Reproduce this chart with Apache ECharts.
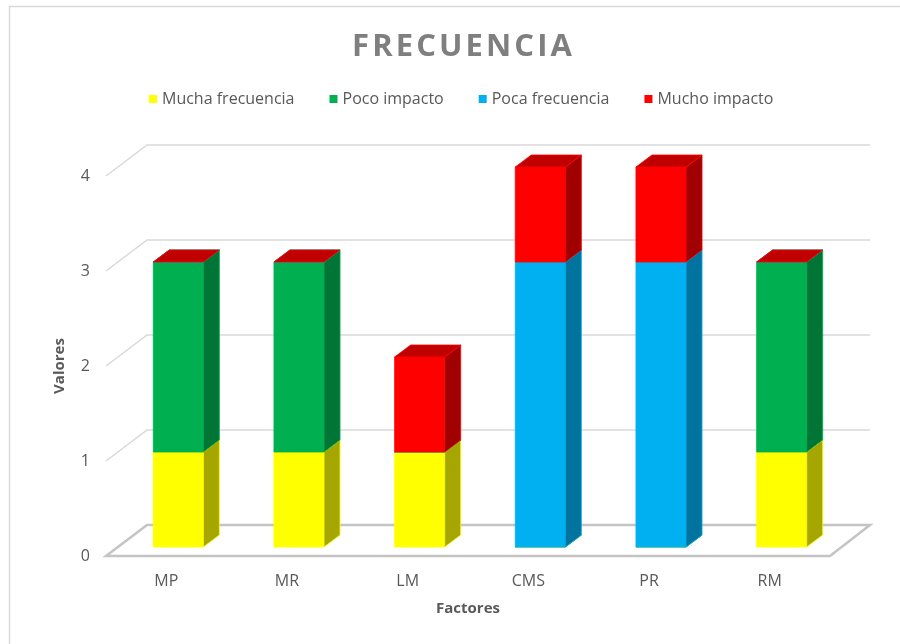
<!DOCTYPE html>
<html>
<head>
<meta charset="utf-8">
<script src="https://cdn.jsdelivr.net/npm/echarts@6/dist/echarts.min.js"></script>
<style>
  html, body { margin: 0; padding: 0; background: #ffffff; }
  #chart { width: 900px; height: 644px; }
</style>
</head>
<body>
<div id="chart"></div>
<script>
// Factors on the horizontal axis
const categories = ['MP', 'MR', 'LM', 'CMS', 'PR', 'RM'];

// Stacked series values, in stacking order (bottom to top)
const muchaFrecuencia = [1, 1, 1, 0, 0, 1];
const pocoImpacto     = [2, 2, 0, 0, 0, 2];
const pocaFrecuencia  = [0, 0, 0, 3, 3, 0];
const muchoImpacto    = [0, 0, 1, 1, 1, 0];

const seriesNames = ['Mucha frecuencia', 'Poco impacto', 'Poca frecuencia', 'Mucho impacto'];
const seriesValues = [muchaFrecuencia, pocoImpacto, pocaFrecuencia, muchoImpacto];

// Value axis ticks
const yTicks = [0, 1, 2, 3, 4];

// Face colours: front, side, top
const palette = [
  { front: '#FFFF00', side: '#A6A600', top: '#D4D400' },
  { front: '#00B050', side: '#007536', top: '#008A3E' },
  { front: '#00B0F0', side: '#00739E', top: '#0089BA' },
  { front: '#FF0000', side: '#A00000', top: '#C00000' }
];

// Perspective offsets (pixels) of the pseudo-3D box
const WALL_DEPTH = [41, -31];   // full floor depth: front plane -> back wall
const BAR_FRONT = [12, -9];     // bar front face relative to the front plane
const BAR_DEPTH = [16, -12];    // bar thickness
const BAR_RATIO = 0.415;        // bar width relative to category band

const chart = echarts.init(document.getElementById('chart'), null, { renderer: 'canvas' });

// Build stacked [category, base, top] triples for each series
const cumulative = categories.map(() => 0);
const stackedData = seriesValues.map(vals => vals.map((v, i) => {
  const base = cumulative[i];
  cumulative[i] += v;
  return [i, base, base + v];
}));

function renderBox(idx) {
  const col = palette[idx];
  return function (params, api) {
    const i = api.value(0), lo = api.value(1), hi = api.value(2);
    const bw = api.size([1, 0])[0] * BAR_RATIO;
    const pLo = api.coord([i, lo]);
    const pHi = api.coord([i, hi]);
    const x0 = pLo[0] + BAR_FRONT[0] - bw / 2;
    const x1 = x0 + bw;
    const yb = pLo[1] + BAR_FRONT[1];
    const yt = pHi[1] + BAR_FRONT[1];
    const dx = BAR_DEPTH[0], dy = BAR_DEPTH[1];
    const children = [];
    if (hi > lo) {
      children.push({
        type: 'polygon',
        shape: { points: [[x0, yt], [x1, yt], [x1, yb], [x0, yb]] },
        style: { fill: col.front, stroke: col.front, lineWidth: 0.8 }
      });
      children.push({
        type: 'polygon',
        shape: { points: [[x1, yb], [x1 + dx, yb + dy], [x1 + dx, yt + dy], [x1, yt]] },
        style: { fill: col.side, stroke: col.front, lineWidth: 0.8 }
      });
    }
    children.push({
      type: 'polygon',
      shape: { points: [[x0, yt], [x1, yt], [x1 + dx, yt + dy], [x0 + dx, yt + dy]] },
      style: { fill: col.top, stroke: col.front, lineWidth: 0.8 }
    });
    return { type: 'group', children: children };
  };
}

// Back-wall gridlines and floor
function renderWall(params, api) {
  const v = api.value(0);
  const cs = params.coordSys;
  const p = api.coord([0, v]);
  const xl = cs.x, xr = cs.x + cs.width;
  const y = p[1];
  const dx = WALL_DEPTH[0], dy = WALL_DEPTH[1];
  if (v === 0) {
    return {
      type: 'polygon',
      shape: { points: [[xl, y], [xr, y], [xr + dx - 1, y + dy], [xl + dx, y + dy]] },
      style: { fill: 'none', stroke: '#C4C4C4', lineWidth: 2.5 }
    };
  }
  return {
    type: 'polyline',
    shape: { points: [[xl, y], [xl + dx, y + dy], [xr + dx - 1, y + dy]] },
    style: { fill: 'none', stroke: '#D9D9D9', lineWidth: 1.5 }
  };
}

const series = [{
  type: 'custom',
  name: 'wall',
  renderItem: renderWall,
  data: yTicks.map(t => [t]),
  encode: { y: 0 },
  silent: true,
  z: 1
}];

seriesNames.forEach((name, idx) => {
  series.push({
    type: 'custom',
    name: name,
    renderItem: renderBox(idx),
    data: stackedData[idx],
    encode: { x: 0, y: [1, 2] },
    itemStyle: { color: palette[idx].front },
    z: 2
  });
});

const option = {
  backgroundColor: '#ffffff',
  animation: false,
  title: {
    text: 'F\u200AR\u200AE\u200AC\u200AU\u200AE\u200AN\u200AC\u200AI\u200AA',
    top: 27,
    left: 457,
    textAlign: 'center',
    textStyle: {
      fontFamily: 'Open Sans',
      fontWeight: 'bold',
      fontSize: 31,
      color: '#7F7F7F'
    }
  },
  legend: {
    data: seriesNames,
    left: 144,
    top: 86,
    icon: 'rect',
    itemWidth: 8,
    itemHeight: 8,
    itemGap: 35,
    textStyle: { fontFamily: 'Open Sans', fontSize: 16, color: '#595959' }
  },
  graphic: [{
    type: 'rect',
    shape: { x: 9.5, y: 6.5, width: 920, height: 680 },
    style: { fill: 'none', stroke: '#D9D9D9', lineWidth: 1.5 },
    silent: true
  }],
  grid: { left: 106, right: 70, top: 176, bottom: 88 },
  xAxis: {
    type: 'category',
    data: categories,
    axisLine: { show: false },
    axisTick: { show: false },
    axisLabel: { margin: 17, fontFamily: 'Open Sans', fontSize: 16, color: '#595959' },
    name: 'Factores',
    nameLocation: 'middle',
    nameGap: 45,
    nameTextStyle: { fontFamily: 'Open Sans', fontWeight: 'bold', fontSize: 15, color: '#595959' }
  },
  yAxis: {
    type: 'value',
    min: 0,
    max: 4,
    interval: 1,
    axisLine: { show: false },
    axisTick: { show: false },
    splitLine: { show: false },
    axisLabel: { margin: 16, padding: [4, 0, 0, 0], fontFamily: 'Open Sans', fontSize: 16, color: '#595959' },
    name: 'Valores',
    nameLocation: 'middle',
    nameRotate: 90,
    nameGap: 39,
    nameTextStyle: { fontFamily: 'Open Sans', fontWeight: 'bold', fontSize: 15, color: '#595959' }
  },
  series: series
};

chart.setOption(option);
</script>
</body>
</html>
